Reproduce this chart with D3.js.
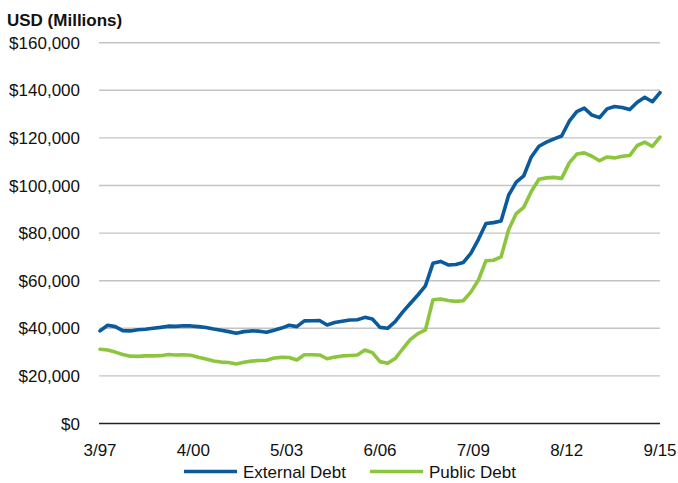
<!DOCTYPE html>
<html><head><meta charset="utf-8">
<script src="https://cdn.jsdelivr.net/npm/d3@7"></script>
<style>
html,body{margin:0;padding:0;background:#fff;}
svg{display:block;font-family:"Liberation Sans",Arial,sans-serif;}
</style></head>
<body>
<svg id="c" width="678" height="483"></svg>
<script>
// Quarterly observations, March 1997 – September 2015 (USD millions)
const startYear = 1997, startMonth = 2; // March 1997, step 3 months
const externalDebt = [
 38900,41300,40700,39000,38900,39400,39600,40000,40400,40900,
 40800,41100,41000,40700,40300,39700,39200,38600,37900,38600,
 38900,38800,38300,39200,40100,41300,40700,43100,43200,43300,
 41400,42400,43000,43500,43600,44600,43900,40400,40000,42800,
 46800,50400,54000,57800,67300,68100,66600,66800,67600,71500,
 77400,84000,84400,85100,96000,101400,104000,112000,116500,118200,
 119600,120800,127000,131000,132500,129600,128500,132200,133200,132800,
 131900,135000,137100,135200,139000
];
const publicDebt = [
 31200,30900,30000,29000,28300,28200,28400,28400,28500,29000,
 28800,28900,28700,27800,27100,26300,25800,25600,25000,25700,
 26200,26500,26600,27500,27800,27700,26700,28900,28900,28800,
 27200,27900,28400,28600,28800,30900,29800,26000,25300,27300,
 31300,35200,37800,39300,52000,52300,51700,51300,51600,55200,
 60300,68400,68600,70000,81500,88200,90800,97500,102600,103200,
 103400,103000,109500,113200,113700,112300,110400,112000,111600,112300,
 112600,116800,118200,116400,120300
];
const xTickLabels = ["3/97","4/00","5/03","6/06","7/09","8/12","9/15"];
const yTicks = [0,20000,40000,60000,80000,100000,120000,140000,160000];
const seriesNames = ["External Debt","Public Debt"];
const seriesColors = ["#0a5a9c","#8cc63f"];

const dates = externalDebt.map((_,i)=>new Date(startYear, startMonth + 3*i, 1));
const tickDates = xTickLabels.map(s=>{const [m,y]=s.split("/").map(Number);return new Date(y<50?2000+y:1900+y, m-1, 1);});

const svg = d3.select("#c");
const x = d3.scaleTime().domain([dates[0], dates[dates.length-1]]).range([100,660]);
const y = d3.scaleLinear().domain([0,160000]).range([423.5,42.7]);

// gridlines
svg.append("g").selectAll("line").data(yTicks.filter(d=>d>0)).join("line")
  .attr("x1",99).attr("x2",660).attr("y1",d=>y(d)).attr("y2",d=>y(d))
  .attr("stroke","#c4c4c4").attr("stroke-width",1.4);

// y axis labels
const fmt = d3.format("$,");
svg.append("g").selectAll("text").data(yTicks).join("text")
  .attr("x",80).attr("y",d=>y(d)).attr("dy","0.36em").attr("text-anchor","end")
  .attr("font-size",17).attr("fill","#111").text(d=>fmt(d));

// baseline
svg.append("line").attr("x1",99).attr("x2",660).attr("y1",y(0)).attr("y2",y(0))
  .attr("stroke","#222").attr("stroke-width",1.5);

// x axis labels
svg.append("g").selectAll("text").data(tickDates).join("text")
  .attr("x",d=>x(d)).attr("y",456).attr("text-anchor","middle")
  .attr("font-size",17).attr("fill","#111").text((d,i)=>xTickLabels[i]);

// unit label
svg.append("text").attr("x",7).attr("y",26).attr("font-size",17).attr("font-weight","bold")
  .attr("fill","#111").text("USD (Millions)");

// lines
const line = d3.line().x((d,i)=>x(dates[i])).y(d=>y(d)).curve(d3.curveLinear);
[externalDebt, publicDebt].forEach((s,k)=>{
  svg.append("path").datum(s).attr("d",line).attr("fill","none")
    .attr("stroke",seriesColors[k]).attr("stroke-width",3.6).attr("stroke-linejoin","round").attr("stroke-linecap","round");
});

// legend
const legX = [184, 370];
seriesNames.forEach((n,k)=>{
  svg.append("line").attr("x1",legX[k]).attr("x2",legX[k]+53).attr("y1",471.5).attr("y2",471.5)
    .attr("stroke",seriesColors[k]).attr("stroke-width",3.6);
  svg.append("text").attr("x",legX[k]+59).attr("y",478).attr("font-size",17).attr("fill","#111").text(n);
});
</script>
</body></html>
